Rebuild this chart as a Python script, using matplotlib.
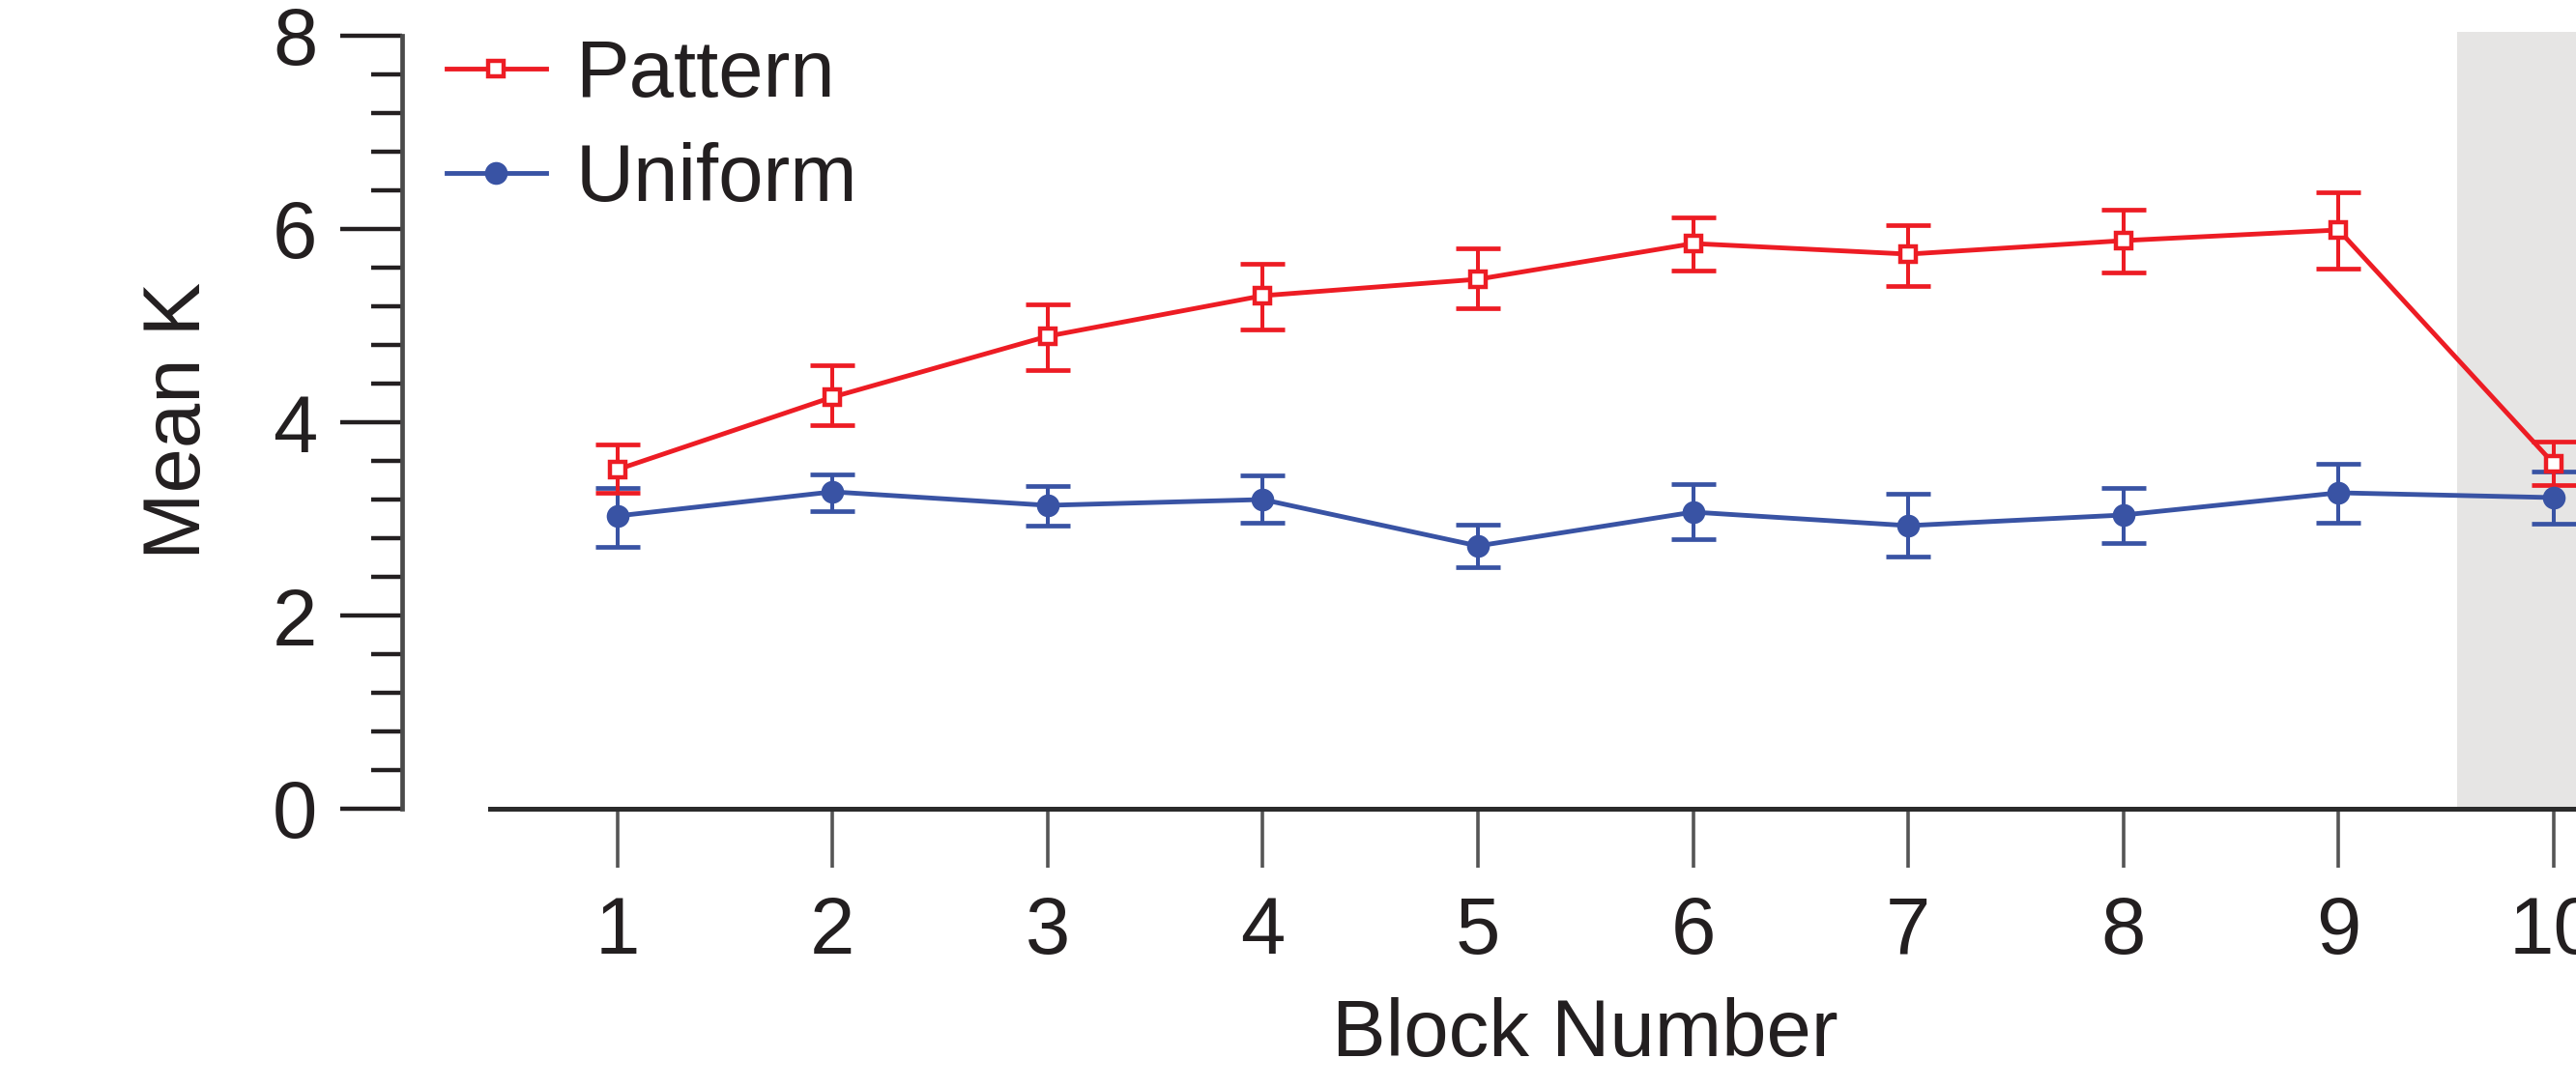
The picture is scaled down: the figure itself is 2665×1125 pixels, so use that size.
import matplotlib
matplotlib.use('Agg')
import matplotlib.pyplot as plt
from matplotlib.lines import Line2D
import numpy as np

plt.rcParams['font.family'] = ['Liberation Sans', 'DejaVu Sans']

blocks = [1, 2, 3, 4, 5, 6, 7, 8, 9, 10]

# mean K and the ends of the error bars
pattern_mean = [3.51, 4.26, 4.89, 5.31, 5.48, 5.85, 5.74, 5.88, 5.99, 3.57]
pattern_low = [3.27, 3.97, 4.54, 4.96, 5.18, 5.57, 5.41, 5.55, 5.59, 3.35]
pattern_high = [3.77, 4.59, 5.22, 5.64, 5.80, 6.12, 6.04, 6.20, 6.38, 3.80]

uniform_mean = [3.03, 3.28, 3.14, 3.20, 2.72, 3.07, 2.93, 3.04, 3.27, 3.22]
uniform_low = [2.71, 3.08, 2.93, 2.96, 2.50, 2.79, 2.61, 2.75, 2.96, 2.95]
uniform_high = [3.32, 3.46, 3.34, 3.45, 2.94, 3.36, 3.26, 3.32, 3.57, 3.49]

red = '#ed1c24'
blue = '#3953a4'
ink = '#231f20'

fig = plt.figure(figsize=(26.65, 11.25), dpi=100)
ax = fig.add_axes([416 / 2665, 288 / 1125, 11 * 222.6 / 2665, 804 / 1125])

ax.set_xlim(0, 11)
ax.set_ylim(0, 8.04)

# shaded test block
ax.axvspan(9.55, 11.5, color='#e6e5e4', zorder=0, lw=0)

pm = np.array(pattern_mean)
um = np.array(uniform_mean)
p_err = [pm - np.array(pattern_low), np.array(pattern_high) - pm]
u_err = [um - np.array(uniform_low), np.array(uniform_high) - um]

# error bars first, then line + markers on top
ax.errorbar(blocks, uniform_mean, yerr=u_err, fmt='none', ecolor=blue,
            elinewidth=2.9, capsize=16.5, capthick=3.4, zorder=2)
ax.errorbar(blocks, pattern_mean, yerr=p_err, fmt='none', ecolor=red,
            elinewidth=2.9, capsize=16.5, capthick=3.4, zorder=2)

ax.plot(blocks, uniform_mean, color=blue, lw=3.5, marker='o', ms=17,
        mfc=blue, mec=blue, mew=0, zorder=3)
ax.plot(blocks, pattern_mean, color=red, lw=3.5, marker='s', ms=11.5,
        mfc='white', mec=red, mew=3.2, zorder=4)

ax.spines['top'].set_visible(False)
ax.spines['right'].set_visible(False)
ax.spines['left'].set_bounds(0, 8)
ax.spines['left'].set_color('#4a4a4a')
ax.spines['left'].set_linewidth(3.4)
ax.spines['bottom'].set_bounds(0.41, 11)
ax.spines['bottom'].set_color('#2b2b2b')
ax.spines['bottom'].set_linewidth(3.6)

ax.set_yticks([0, 2, 4, 6, 8])
ax.set_yticks([v * 0.4 for v in range(21) if v % 5 != 0], minor=True)
ax.set_xticks(blocks)

ax.tick_params(axis='y', which='major', length=46, width=3.2, color=ink,
               labelsize=60, labelcolor=ink, pad=17)
ax.tick_params(axis='y', which='minor', length=23, width=3.2, color=ink)
ax.tick_params(axis='x', which='major', length=44, width=2.6, color='#555555',
               labelsize=60, labelcolor=ink, pad=20)

ax.set_xlabel('Block Number', fontsize=60, color=ink, labelpad=20)
ax.set_ylabel('Mean K', fontsize=60, color=ink, labelpad=42)

h_p = Line2D([], [], color=red, lw=3.5, marker='s', ms=11.5,
             mfc='white', mec=red, mew=3.2)
h_u = Line2D([], [], color=blue, lw=3.5, marker='o', ms=17,
             mfc=blue, mec=blue, mew=0)
leg = ax.legend([h_p, h_u], ['Pattern', 'Uniform'], loc='upper left',
                bbox_to_anchor=(462 / 2665, 1 - 39 / 1125),
                bbox_transform=fig.transFigure, frameon=False,
                fontsize=60, handlelength=1.23, handletextpad=0.37,
                labelspacing=0.36, borderpad=0, borderaxespad=0)
for t in leg.get_texts():
    t.set_color(ink)

fig.savefig('out.png', dpi=100)
